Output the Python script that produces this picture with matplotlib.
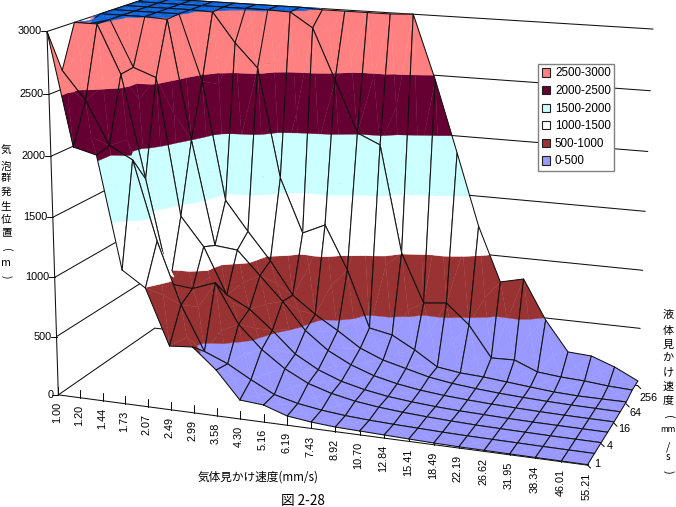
import numpy as np
import matplotlib
matplotlib.use('Agg')
import matplotlib.pyplot as plt
from matplotlib.patches import Patch

plt.rcParams['font.family'] = ['Noto Sans CJK JP', 'DejaVu Sans']

gas_labels = ['1.00', '1.20', '1.44', '1.73', '2.07', '2.49', '2.99', '3.58', '4.30', '5.16', '6.19', '7.43',
              '8.92', '10.70', '12.84', '15.41', '18.49', '22.19', '26.62', '31.95', '38.34', '46.01', '55.21']
liquid_labels = ['1', '', '4', '', '16', '', '64', '', '256']
z_ticks = [0, 500, 1000, 1500, 2000, 2500, 3000]

# one row of heights per liquid velocity, across the gas velocities
row_l1 = [3000, 2092, 2044, 1124, 996, 537, 552, 384, 159, 143, 77, 53, 38, 32, 26, 20, 14, 10, 9, 7, 6, 5, 4]
row_l2 = [2650, 2420, 2070, 1970, 1320, 810, 440, 360, 250, 150, 100, 70, 50, 38, 30, 24, 18, 14, 12, 10, 8, 7, 6]
row_l4 = [3000, 3000, 2605, 1760, 900, 880, 950, 620, 430, 290, 190, 130, 90, 65, 48, 36, 27, 20, 16, 13, 10, 9, 8]
row_l8 = [2950, 3100, 2620, 2550, 1410, 1170, 780, 680, 520, 340, 230, 155, 108, 75, 55, 40, 30, 24, 18, 14, 12, 10, 9]
row_l16 = [3100, 3100, 3050, 2990, 2000, 1120, 1100, 900, 700, 470, 320, 220, 150, 105, 75, 55, 42, 32, 25, 19, 15, 13, 11]
row_l32 = [3200, 3200, 3200, 3100, 2450, 1450, 1200, 965, 685, 540, 420, 290, 210, 160, 110, 80, 60, 45, 34, 26, 20, 17, 14]
row_l64 = [3200, 3200, 3200, 3200, 2993, 2745, 2547, 1624, 1165, 1254, 882, 395, 356, 248, 122, 94, 83, 64, 45, 27, 18, 17, 17]
row_l128 = [3200, 3200, 3200, 3200, 3200, 3200, 3200, 2994, 2872, 2446, 2010, 1924, 1008, 590, 612, 441, 174, 180, 99, 79, 69, 50, 40]
row_l256 = [3200, 3200, 3200, 3200, 3200, 3200, 3200, 3200, 2990, 2990, 2990, 2990, 3002, 2460, 1856, 1240, 773, 820, 482, 224, 212, 139, 41]
surface = np.array([row_l1, row_l2, row_l4, row_l8, row_l16, row_l32, row_l64, row_l128, row_l256], float)

band_edges = [0, 500, 1000, 1500, 2000, 2500, 3000, 1e6]
band_colors = ['#9999FF', '#993333', '#FFFFFF', '#CCFFFF', '#660033', '#FF8080', '#0A62DC']
band_names = ['0-500', '500-1000', '1000-1500', '1500-2000', '2000-2500', '2500-3000']

NI, NJ = len(gas_labels) - 1, len(liquid_labels) - 1

# Camera of the 3D box, solved from where its corners and wall levels fall on the page.
box_pins = [((0, 0, 0), (59, 395)), ((NI, 0, 0), (587, 465)), ((NI, NJ, 0), (638, 381)), ((0, NJ, 0), (155, 329)),
            ((0, 0, 3000), (45, 31)), ((0, 0, 2500), (50, 94)), ((0, 0, 2000), (52, 156)), ((0, 0, 1500), (52, 217)),
            ((0, 0, 1000), (55, 277)), ((0, 0, 500), (58, 336)), ((NI, NJ, 3000), (653, 28)), ((NI, NJ, 2500), (650, 91)),
            ((NI, NJ, 2000), (648, 152)), ((NI, NJ, 1500), (645, 212)), ((NI, NJ, 1000), (643, 272)), ((NI, NJ, 500), (641, 330)),
            ((0, NJ, 3000), (150, -1)), ((0, NJ, 2500), (150, 55)), ((0, NJ, 2000), (150, 112)), ((0, NJ, 1500), (151, 165)),
            ((0, NJ, 1000), (152, 218)), ((0, NJ, 500), (153, 277)), ((8, 0, 0), (239, 420)), ((12, 0, 0), (335, 433))]
rows = []
for (i, j, z), (px, py) in box_pins:
    h = [i / NI, j / NJ, z / 3000, 1]
    rows.append(h + [0, 0, 0, 0] + [-px * t for t in h])
    rows.append([0, 0, 0, 0] + h + [-py * t for t in h])
camera = np.linalg.svd(np.array(rows, float))[2][-1].reshape(3, 4)


def project(i, j, z):
    p = camera @ np.array([i / NI, j / NJ, min(z, 3000) / 3000, 1])
    return p[0] / p[2], p[1] / p[2]


def clip_plane(poly, level, keep_above):
    out = []
    for a, b in zip(poly, poly[1:] + poly[:1]):
        ina = a[2] >= level if keep_above else a[2] <= level
        inb = b[2] >= level if keep_above else b[2] <= level
        if ina:
            out.append(a)
        if ina != inb:
            t = (level - a[2]) / (b[2] - a[2])
            out.append(tuple(a[k] + t * (b[k] - a[k]) for k in range(3)))
    return out


fig = plt.figure(figsize=(6.76, 5.07), dpi=100)
ax = fig.add_axes([0, 0, 1, 1])
ax.set_xlim(0, 676)
ax.set_ylim(507, 0)
ax.axis('off')

LINE = dict(color='#101010', lw=0.75, zorder=2, solid_capstyle='round')
DIGITS = dict(fontsize=7.8, family='Liberation Sans', zorder=5)

# walls
for z in z_ticks:
    x0, y0 = project(0, 0, z)
    x1, y1 = project(0, NJ, z)
    x2, y2 = project(NI, NJ, z)
    ax.plot([x0, x1, x2], [y0, y1, y2], **LINE)
    ax.plot([x0 - 6, x0], [y0, y0], **LINE)
    ax.text(x0 - 5, y0, f'{z}', ha='right', va='center', **DIGITS)
ax.plot(*zip(project(0, 0, 0), project(0, 0, 3000)), **LINE)

# front axis with its ticks and labels
for i, lab in enumerate(gas_labels):
    x, y = project(i, 0, 0)
    ax.plot([x, x], [y - 8, y], **LINE)
    ax.text(x - 1, y + 7, lab, rotation=90, ha='center', va='top', **DIGITS)
ax.plot(*zip(project(0, 0, 0), project(NI, 0, 0)), **LINE)

# side axis labels
for j, lab in enumerate(liquid_labels):
    x, y = project(NI, j, 0)
    if lab:
        ax.plot([x, x + 3], [y, y + 3], **LINE)
        ax.text(x + 7 - 0.6 * j, y - 1 + 1.65 * j, lab, ha='left', va='center', **DIGITS)

# surface cells, far side first so nearer cells cover what lies behind them
for j in range(NJ - 1, -1, -1):
    for i in range(NI):
        corners = [(i, j), (i + 1, j), (i + 1, j + 1), (i, j + 1)]
        pts = [(a, b, surface[b, a]) for a, b in corners]
        mid = (i + .5, j + .5, float(np.mean([p[2] for p in pts])))
        for k in range(4):
            tri = [pts[k], pts[(k + 1) % 4], mid]
            for b in range(len(band_colors)):
                poly = clip_plane(tri, band_edges[b], True) if b else tri
                if poly:
                    poly = clip_plane(poly, band_edges[b + 1], False)
                if len(poly) > 2:
                    xy = [project(*p) for p in poly]
                    ax.fill(*zip(*xy), fc=band_colors[b], ec=band_colors[b], lw=0.25, zorder=2)
        outline = [project(*p) for p in pts + pts[:1]]
        ax.plot(*zip(*outline), **LINE)

# legend
handles = [Patch(fc=band_colors[k], ec='#202020', lw=0.8, label=band_names[k]) for k in range(5, -1, -1)]
leg = ax.legend(handles=handles, loc='upper left', bbox_to_anchor=(538, 64), bbox_transform=ax.transData,
                frameon=True, fancybox=False, framealpha=1, edgecolor='#808080',
                handlelength=0.7, handleheight=0.7, handletextpad=0.45, labelspacing=0.48,
                borderpad=0.3, borderaxespad=0, prop={'family': 'Liberation Sans', 'size': 8.4})
leg.set_zorder(6)
leg.get_frame().set_linewidth(1.0)

# axis titles
ax.text(258, 477, '気体見かけ速度(mm/s)', ha='center', va='center', fontsize=8.4, zorder=5)
ax.text(303, 500.5, '図 2-28', ha='center', va='center', fontsize=9.8, zorder=5)

for s, y, rot, size in zip(['液', '体', '見', 'か', 'け', '速', '度', '(', 'mm', '/', 's', ')'],
                           [315, 331, 345, 358, 372, 387, 400, 417, 429, 447, 457, 472],
                           [0, 0, 0, 0, 0, 0, 0, -90, 0, 0, 0, -90],
                           [8, 8, 8, 8, 8, 8, 8, 8, 6, 8, 7, 8]):
    ax.text(668, y, s, rotation=rot, ha='center', va='center', fontsize=size, zorder=5)
for s, y, rot in zip(['気', '泡', '群', '発', '生', '位', '置', '(', 'm', ')'],
                     [150, 167, 178, 192, 207, 220, 233, 250, 263, 277],
                     [0, 0, 0, 0, 0, 0, 0, -90, 0, -90]):
    ax.text(6, y, s, rotation=rot, ha='center', va='center', fontsize=7.6, zorder=5)

fig.savefig('out.png', dpi=100)
